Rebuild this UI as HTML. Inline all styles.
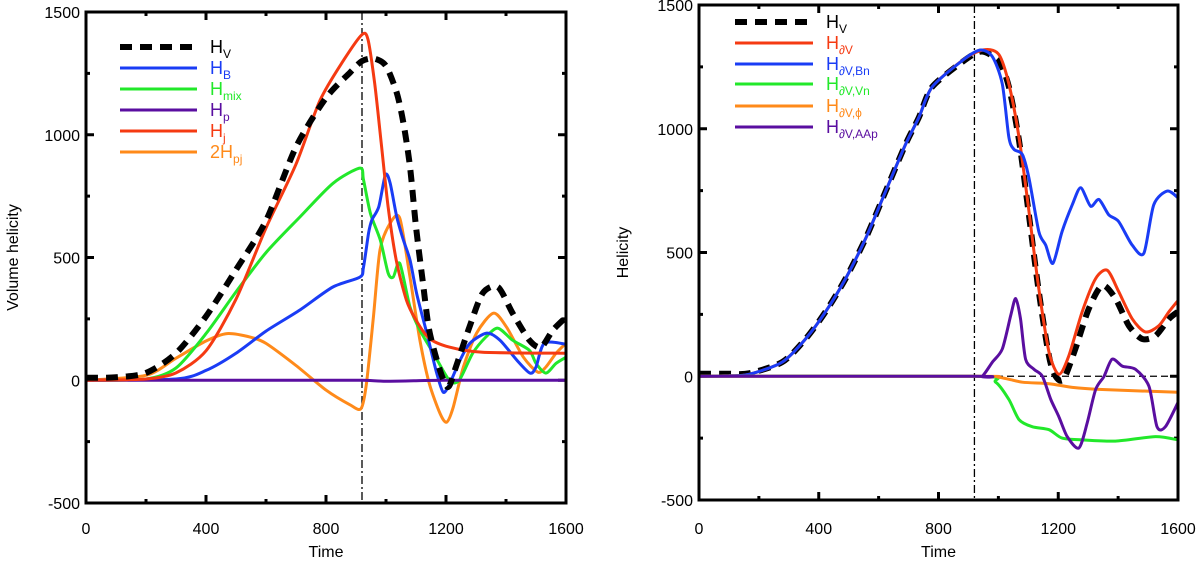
<!DOCTYPE html>
<html><head><meta charset="utf-8"><style>
html,body{margin:0;padding:0;background:#fff;}
svg{display:block;font-family:"Liberation Sans",Arial,sans-serif;}
</style></head><body>
<svg id="fig" width="1200" height="565" viewBox="0 0 1200 565">
<g id="p1"></g>
<g id="p2"></g>
</svg>
<script>
// ---------- Left panel data ----------
const hvT = [0,100,200,300,400,500,600,700,800,880,920,960,1000,1036,1058,1080,1100,1122,1144,1180,1207,1233,1278,1322,1373,1422,1478,1517,1556,1600];
const hvV = [10,12,30,110,260,450,650,950,1150,1253,1300,1310,1280,1170,1048,870,625,408,204,40,-28,54,216,354,380,273,163,135,204,257];
const hbT = [0,300,400,500,600,713,823,913,925,942,953,976,998,1014,1036,1058,1080,1102,1136,1169,1191,1213,1247,1280,1336,1380,1436,1480,1500,1528,1600];
const hbV = [0,5,40,110,200,286,380,420,461,600,653,707,837,802,665,571,490,354,192,29,-49,-12,82,151,192,163,82,29,54,151,147];
const hmT = [0,200,300,400,500,600,713,823,913,925,948,981,1007,1024,1046,1080,1113,1158,1211,1244,1289,1333,1373,1422,1478,1500,1533,1567,1600];
const hmV = [0,5,50,190,360,520,665,802,864,816,680,571,437,420,476,298,204,110,0,0,110,176,212,163,122,69,29,69,94];
const hpT = [0,400,800,920,1000,1100,1200,1400,1600];
const hpV = [0,0,0,0,-4,-2,0,0,0];
const hjT = [0,200,300,400,500,600,700,780,860,920,940,962,984,1007,1034,1068,1100,1144,1211,1322,1600];
const hjV = [0,5,30,120,330,620,880,1140,1306,1408,1388,1212,967,707,490,327,245,171,135,114,110];
const hpjT = [0,200,300,400,470,550,600,700,800,880,917,935,958,980,1014,1046,1080,1113,1144,1180,1202,1224,1258,1302,1358,1402,1458,1506,1533,1567,1600];
const hpjV = [0,20,90,160,190,175,150,60,-40,-100,-115,-12,257,531,640,660,420,163,-12,-135,-171,-110,54,192,273,216,94,33,54,110,151];

// ---------- Right panel data ----------
const rhvT = [0,100,167,278,356,423,490,557,624,690,735,779,890,946,1002,1035,1069,1102,1135,1169,1191,1218,1257,1302,1347,1391,1436,1480,1525,1570,1600];
const rhvV = [10,10,12,57,151,261,395,558,749,937,1047,1169,1279,1312,1271,1169,953,652,342,81,0,-12,110,273,367,314,204,151,163,232,261];
const rdvT = [0,100,167,278,356,423,490,557,624,690,735,779,890,957,1002,1035,1069,1102,1135,1169,1202,1235,1280,1325,1364,1402,1447,1491,1536,1570,1600];
const rdvV = [0,2,8,57,151,261,395,558,749,937,1047,1169,1285,1320,1299,1181,965,668,354,98,8,81,261,395,428,342,232,179,204,261,306];
const rbnT = [0,100,167,278,356,423,490,557,624,690,735,779,890,941,980,1013,1035,1052,1080,1102,1135,1158,1182,1213,1247,1275,1308,1336,1369,1402,1447,1486,1519,1564,1600];
const rbnV = [0,2,8,57,151,261,395,558,749,937,1047,1169,1285,1318,1291,1181,965,917,896,802,585,530,456,585,693,762,687,714,652,625,530,497,693,748,721];
const rvnT = [0,920,991,1035,1069,1113,1169,1213,1280,1391,1525,1600];
const rvnV = [0,0,-24,-94,-175,-204,-216,-250,-257,-262,-244,-257];
const rphT = [0,920,1002,1080,1169,1247,1336,1600];
const rphV = [0,0,-4,-24,-30,-45,-53,-65];
const raaT = [0,920,946,980,1013,1041,1058,1074,1091,1119,1147,1175,1202,1230,1269,1297,1325,1353,1380,1414,1458,1503,1530,1558,1600];
const raaV = [0,0,0,57,110,244,314,232,69,28,0,-94,-163,-244,-290,-187,-53,0,69,41,28,-41,-204,-204,-106];

const xTicks = [0,400,800,1200,1600];
const yTicks = [-500,0,500,1000,1500];
const eventTime = 920;

const NS = "http://www.w3.org/2000/svg";
function mk(parent, tag, attrs){ const e=document.createElementNS(NS,tag); for(const k in attrs) e.setAttribute(k,attrs[k]); parent.appendChild(e); return e; }

function panel(g, L, R, T, B, ylabelX, ytitle, ytitleX){
  const sx = t => L + (t-0)/(1600-0)*(R-L);
  const sy = v => B - (v+500)/2000*(B-T);
  for(let t=0;t<=1600;t+=200){
    const len = (t%400===0)?8:4;
    const tk=mk(g,'line',{x1:sx(t),x2:sx(t),y1:B,y2:B-len,stroke:'#000','stroke-width':3});
    
    
    const tk2=mk(g,'line',{x1:sx(t),x2:sx(t),y1:T,y2:T+len,stroke:'#000','stroke-width':3});
    
    
  }
  for(let v=-500;v<=1500;v+=250){
    const len = (v%500===0)?8:4;
    const tk=mk(g,'line',{x1:L,x2:L+len,y1:sy(v),y2:sy(v),stroke:'#000','stroke-width':3});
    
    
    const tk2=mk(g,'line',{x1:R,x2:R-len,y1:sy(v),y2:sy(v),stroke:'#000','stroke-width':3});
    
    
  }
  xTicks.forEach(t=>{
    const tx=mk(g,'text',{x:sx(t),y:534,'text-anchor':'middle','font-size':16});
    tx.textContent=t;
    
    
  });
  yTicks.forEach(v=>{
    const tx=mk(g,'text',{x:ylabelX,y:sy(v)+6,'text-anchor':'end','font-size':16});
    tx.textContent=v;
    
    
  });
  const xt=mk(g,'text',{x:(L+R)/2,y:557,'text-anchor':'middle','font-size':16});
  xt.textContent='Time';
  
  
  const yt=mk(g,'text',{x:ytitleX,y:(T+B)/2,'text-anchor':'middle','font-size':16,transform:`rotate(-90 ${ytitleX} ${(T+B)/2})`});
  yt.textContent=ytitle;
  
  
  return {sx,sy};
}

function smoothPath(pts){
  let d='M'+pts[0][0].toFixed(1)+','+pts[0][1].toFixed(1);
  for(let i=0;i<pts.length-1;i++){
    const p0=pts[Math.max(0,i-1)],p1=pts[i],p2=pts[i+1],p3=pts[Math.min(pts.length-1,i+2)];
    const k=1/6*0.8;
    const c1=[p1[0]+(p2[0]-p0[0])*k,p1[1]+(p2[1]-p0[1])*k];
    const c2=[p2[0]-(p3[0]-p1[0])*k,p2[1]-(p3[1]-p1[1])*k];
    d+=` C${c1[0].toFixed(1)},${c1[1].toFixed(1)} ${c2[0].toFixed(1)},${c2[1].toFixed(1)} ${p2[0].toFixed(1)},${p2[1].toFixed(1)}`;
  }
  return d;
}

function series(g, ax, T, V, color, w, dash, name){
  const pts = T.map((t,i)=>[ax.sx(t),ax.sy(V[i])]);
  const p = mk(g,'path',{d:smoothPath(pts),fill:'none',stroke:color,'stroke-width':w,'stroke-linejoin':'round'});
  if(dash) p.setAttribute('stroke-dasharray',dash);
  
  
}

function legend(g, x1, x2, y, color, w, dash, main, sub, name){
  const l=mk(g,'line',{x1,x2,y1:y,y2:y,stroke:color,'stroke-width':w});
  if(dash) l.setAttribute('stroke-dasharray',dash);
  
  
  const t=mk(g,'text',{x:x2+13,y:y+6,fill:color,'font-size':18});
  
  
  t.appendChild(document.createTextNode(main));
  const s=mk(t,'tspan',{'font-size':12,dy:5});
  s.textContent=sub;
}

const C = {blue:'#1a3cf5',green:'#22e82a',purple:'#5a0ea0',red:'#f53a12',orange:'#ff8a1a'};

// Left panel
const g1=document.getElementById('p1');
const a1=panel(g1,86,566,12,503,80,'Volume helicity',18);
mk(g1,'line',{x1:a1.sx(eventTime),x2:a1.sx(eventTime),y1:12,y2:503,stroke:'#000','stroke-width':1.3,'stroke-dasharray':'8,3,2,3',});
series(g1,a1,hpjT,hpjV,C.orange,3,null,'series-2hpj');
series(g1,a1,hmT,hmV,C.green,3,null,'series-hmix');
series(g1,a1,hbT,hbV,C.blue,3,null,'series-hb');
series(g1,a1,hpT,hpV,C.purple,3,null,'series-hp');
series(g1,a1,hjT,hjV,C.red,3,null,'series-hj');
series(g1,a1,hvT,hvV,'#000',6,'12,8','series-hv');
legend(g1,120,197,47,'#000',6,'12,8','H','V','legend-hv');
legend(g1,120,197,68,C.blue,3,null,'H','B','legend-hb');
legend(g1,120,197,89,C.green,3,null,'H','mix','legend-hmix');
legend(g1,120,197,110,C.purple,3,null,'H','p','legend-hp');
legend(g1,120,197,131,C.red,3,null,'H','j','legend-hj');
legend(g1,120,197,152,C.orange,3,null,'2H','pj','legend-2hpj');
mk(g1,'rect',{x:86,y:12,width:480,height:491,fill:'none',stroke:'#000','stroke-width':3,});

// Right panel
const g2=document.getElementById('p2');
const a2=panel(g2,699,1178,5,500,693,'Helicity',628);
mk(g2,'line',{x1:a2.sx(eventTime),x2:a2.sx(eventTime),y1:5,y2:500,stroke:'#000','stroke-width':1.3,'stroke-dasharray':'8,3,2,3',});
mk(g2,'line',{x1:699,x2:1178,y1:a2.sy(0),y2:a2.sy(0),stroke:'#000','stroke-width':1.3,'stroke-dasharray':'7,4',});
series(g2,a2,rhvT,rhvV,'#000',6,'12,8','series-hv');
series(g2,a2,rdvT,rdvV,C.red,3,null,'series-hdv');
series(g2,a2,rbnT,rbnV,C.blue,3,null,'series-hdv-bn');
series(g2,a2,rvnT,rvnV,C.green,3,null,'series-hdv-vn');
series(g2,a2,rphT,rphV,C.orange,3,null,'series-hdv-phi');
series(g2,a2,raaT,raaV,C.purple,3,null,'series-hdv-aap');
legend(g2,735,813,22,'#000',6,'12,8','H','V','legend-hv');
legend(g2,735,813,43,C.red,3,null,'H','∂V','legend-hdv');
legend(g2,735,813,64,C.blue,3,null,'H','∂V,Bn','legend-hdv-bn');
legend(g2,735,813,84,C.green,3,null,'H','∂V,Vn','legend-hdv-vn');
legend(g2,735,813,106,C.orange,3,null,'H','∂V,ϕ','legend-hdv-phi');
legend(g2,735,813,127,C.purple,3,null,'H','∂V,AAp','legend-hdv-aap');
mk(g2,'rect',{x:699,y:5,width:479,height:495,fill:'none',stroke:'#000','stroke-width':3,});
</script>
</body></html>
